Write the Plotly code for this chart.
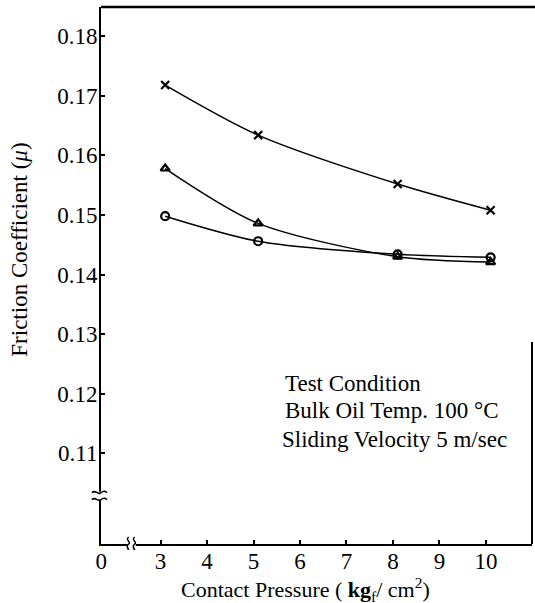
import plotly.graph_objects as go

# ---- data ----
pressure = [3.1, 5.1, 8.1, 10.1]
mu_cross = [0.1718, 0.1634, 0.1552, 0.1508]
mu_triangle = [0.1578, 0.1486, 0.1430, 0.1421]
mu_circle = [0.1498, 0.1456, 0.1434, 0.1429]

y_ticks = [0.11, 0.12, 0.13, 0.14, 0.15, 0.16, 0.17, 0.18]
x_tick_vals = [1.725, 3, 4, 5, 6, 7, 8, 9, 10]
x_tick_text = ["0", "3", "4", "5", "6", "7", "8", "9", "10"]

X_RANGE = [1.72, 10.99]
Y_RANGE = [0.0948, 0.1849]
Y_BREAK = 0.1029
X_BREAK = 2.38

FONT = "Liberation Serif"
FS = 23

fig = go.Figure()
line_style = dict(color="black", width=1.5, shape="spline", smoothing=0.8)
for vals, sym in [(mu_cross, "x-thin-open"), (mu_triangle, "triangle-up-open"), (mu_circle, "circle-open")]:
    fig.add_trace(go.Scatter(
        x=pressure, y=vals, mode="lines+markers",
        line=line_style,
        marker=dict(symbol=sym, size=8, color="black", line=dict(color="black", width=2.2)),
        showlegend=False, cliponaxis=False,
    ))

annos = [
    dict(x=5.64, y=0.1217, text="Test Condition"),
    dict(x=5.64, y=0.1172, text="Bulk Oil Temp. 100 °C"),
    dict(x=5.57, y=0.1123, text="Sliding Velocity 5 m/sec"),
]
annotations = [dict(xref="x", yref="y", xanchor="left", yanchor="middle", showarrow=False,
                    font=dict(family=FONT, size=FS, color="black"), **a) for a in annos]
# axis titles
annotations.append(dict(xref="paper", yref="paper", x=-0.188, y=0.548, xanchor="center", yanchor="middle",
                        textangle=-90, showarrow=False,
                        text="Friction Coefficient (<i>μ</i>)",
                        font=dict(family=FONT, size=FS, color="black")))
annotations.append(dict(xref="paper", yref="paper", x=0.474, y=-0.084, xanchor="center", yanchor="middle",
                        showarrow=False,
                        text="Contact Pressure ( <b>kg</b><sub>f</sub>/ cm<sup>2</sup>)",
                        font=dict(family=FONT, size=22, color="black")))

shapes = [
    # right border (only visible in the lower part)
    dict(type="line", xref="paper", yref="y", x0=1, x1=1, y0=Y_RANGE[0], y1=0.1287,
         line=dict(color="black", width=2), layer="above"),
    # y-axis break
    dict(type="path", xref="paper", yref="y", xsizemode="pixel", ysizemode="pixel",
         xanchor=0, yanchor=Y_BREAK, path="M -3,-4 L 3,-4 L 3,4 L -3,4 Z",
         fillcolor="white", line=dict(width=0), layer="above"),
    dict(type="path", xref="paper", yref="y", xsizemode="pixel", ysizemode="pixel",
         xanchor=0, yanchor=Y_BREAK, path="M -9,3 C -6,7 -3,0 0,3 S 5,4 6,3",
         line=dict(color="black", width=1.5), layer="above"),
    dict(type="path", xref="paper", yref="y", xsizemode="pixel", ysizemode="pixel",
         xanchor=0, yanchor=Y_BREAK, path="M -9,-4 C -6,0 -3,-7 0,-4 S 5,-3 6,-4",
         line=dict(color="black", width=1.5), layer="above"),
    # x-axis break
    dict(type="path", xref="x", yref="paper", xsizemode="pixel", ysizemode="pixel",
         xanchor=X_BREAK, yanchor=0, path="M -4,-3 L 4,-3 L 4,3 L -4,3 Z",
         fillcolor="white", line=dict(width=0), layer="above"),
    dict(type="path", xref="x", yref="paper", xsizemode="pixel", ysizemode="pixel",
         xanchor=X_BREAK, yanchor=0, path="M -3,7 C -7,4 0,2 -3,0 S -4,-4 -3,-6",
         line=dict(color="black", width=1.5), layer="above"),
    dict(type="path", xref="x", yref="paper", xsizemode="pixel", ysizemode="pixel",
         xanchor=X_BREAK, yanchor=0, path="M 3,7 C -1,4 6,2 3,0 S 2,-4 3,-6",
         line=dict(color="black", width=1.5), layer="above"),
]

fig.update_layout(
    width=535, height=603,
    margin=dict(l=101, r=3, t=7, b=59),
    paper_bgcolor="white", plot_bgcolor="white",
    font=dict(family=FONT, size=FS, color="black"),
    annotations=annotations, shapes=shapes,
)
fig.update_xaxes(range=X_RANGE, tickvals=x_tick_vals, ticktext=x_tick_text,
                 showgrid=False, zeroline=False, showline=True, linecolor="black", linewidth=2,
                 mirror=False, ticks="inside", ticklen=4, tickwidth=1.5, tickcolor="black",
                 ticklabelstandoff=-5,
                 tickfont=dict(family=FONT, size=FS, color="black"))
fig.update_yaxes(range=Y_RANGE, tickvals=y_ticks, tickformat=".2f",
                 showgrid=False, zeroline=False, showline=True, linecolor="black", linewidth=2,
                 mirror=False, ticks="inside", ticklen=4, tickwidth=1.5, tickcolor="black",
                 ticklabelstandoff=-3,
                 tickfont=dict(family=FONT, size=FS, color="black"))
# top border
fig.add_shape(type="line", xref="paper", yref="paper", x0=0, x1=1.01, y0=1, y1=1,
              line=dict(color="black", width=2.5), layer="above")

fig.write_html("out.html", config={"displayModeBar": False},
               post_script="document.body.style.margin='0';document.body.style.overflow='hidden';")
